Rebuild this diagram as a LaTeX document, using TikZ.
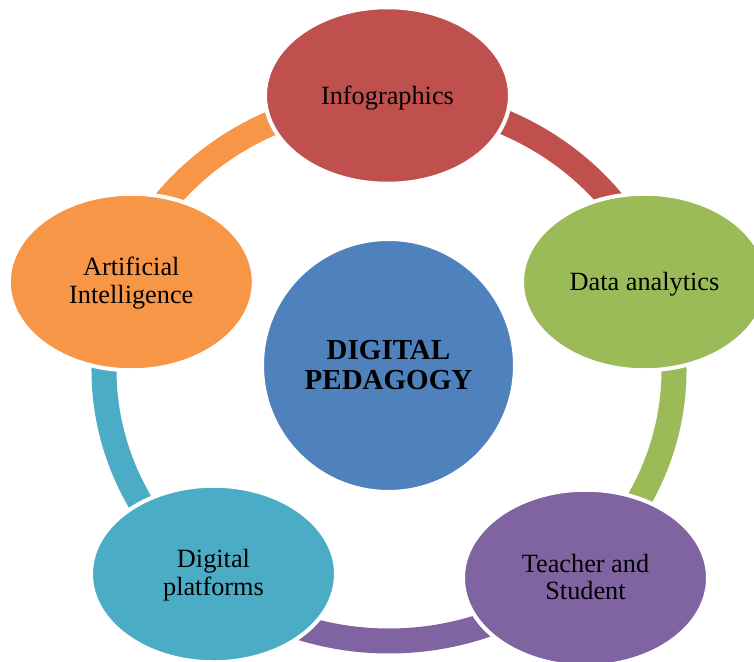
\documentclass[tikz,border=0pt]{standalone}
\usepackage{fontspec}
\setmainfont{Liberation Serif}
\usetikzlibrary{shapes.geometric,calc}

\definecolor{cRed}{HTML}{C0504D}
\definecolor{cGreen}{HTML}{9BBB59}
\definecolor{cPurple}{HTML}{8064A2}
\definecolor{cAqua}{HTML}{4BACC6}
\definecolor{cOrange}{HTML}{F79646}
\definecolor{cBlue}{HTML}{4F81BD}

\begin{document}
\begin{tikzpicture}[x=1pt,y=-1pt,
  seg/.style={line width=25pt},
  bubble/.style={ellipse, draw=white, line width=4pt, minimum width=245pt,
    minimum height=176.5pt, inner sep=0pt, outer sep=0pt},
  hubdisc/.style={circle, draw=white, line width=4pt, fill=cBlue,
    minimum size=253pt, inner sep=0pt, outer sep=0pt},
  lbl/.style={anchor=base, align=center, inner sep=0pt, text=black,
    font=\fontsize{26.3}{27.7}\selectfont},
  hublbl/.style={lbl, font=\fontsize{29}{30}\selectfont\bfseries}]

\useasboundingbox (0,0) rectangle (754,661);
\clip (0,0) rectangle (754,661);

% centre of the surrounding ring
\coordinate (ring) at (389,370);

% ring segments, each in the colour of the bubble it leaves
\draw[seg, cRed]    (ring) ++(-90:285 and 271) arc[start angle=-90, end angle=-20, x radius=285, y radius=271];
\draw[seg, cGreen]  (ring) ++(-20:285 and 271) arc[start angle=-20, end angle=48, x radius=285, y radius=271];
\draw[seg, cPurple] (ring) ++(48:285 and 271)  arc[start angle=48, end angle=129, x radius=285, y radius=271];
\draw[seg, cAqua]   (ring) ++(129:285 and 271) arc[start angle=129, end angle=200, x radius=285, y radius=271];
\draw[seg, cOrange] (ring) ++(200:285 and 271) arc[start angle=200, end angle=270, x radius=285, y radius=271];

% outer bubbles
\node[bubble, fill=cRed]    (info)  at (387.5,95.5) {};
\node[bubble, fill=cGreen]  (data)  at (644.5,282)  {};
\node[bubble, fill=cPurple] (teach) at (585.5,578)  {};
\node[bubble, fill=cAqua]   (plat)  at (213.5,574)  {};
\node[bubble, fill=cOrange] (ai)    at (131.3,282)  {};

% central disc
\node[hubdisc] (hub) at (388.5,365.5) {};

% labels (base anchor sits on the last line of a two-line label)
\node[lbl] (infoT)  at ($(info)+(0,8.7)$)   {Infographics};
\node[lbl] (dataT)  at ($(data)+(0,8.7)$)   {Data analytics};
\node[lbl] (teachT) at ($(teach)+(0,21.7)$) {Teacher and\\Student};
\node[lbl] (platT)  at ($(plat)+(0,21.2)$)  {Digital\\platforms};
\node[lbl] (aiT)    at ($(ai)+(0,21.2)$)    {Artificial\\Intelligence};
\node[hublbl] (hubT) at ($(hub)+(0,23.5)$)  {DIGITAL\\PEDAGOGY};
\end{tikzpicture}
\end{document}
